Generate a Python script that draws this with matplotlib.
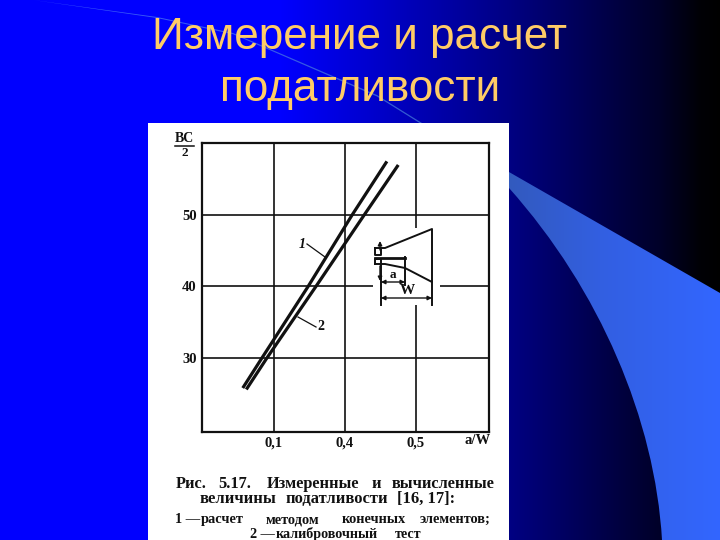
import numpy as np
import matplotlib
matplotlib.use('Agg')
import matplotlib.pyplot as plt
from matplotlib.patches import PathPatch, Rectangle
from matplotlib.path import Path

# curves
line1_x = [0.256, 0.283, 0.348, 0.410, 0.459]
line1_y = [25.8, 30, 40, 50, 57.5]
line2_x = [0.261, 0.290, 0.359, 0.427, 0.475]
line2_y = [25.6, 30, 40, 50, 57.0]

x_ticks = [0.3, 0.4, 0.5]
x_labels = ['0,1', '0,4', '0,5']
y_ticks = [30, 40, 50]
y_labels = ['30', '40', '50']

title_lines = ['Измерение и расчет', 'податливости']
caption_words = [
    [('Рис.', 176), ('5.17.', 218), ('Измеренные', 267), ('и', 372), ('вычисленные', 392)],
    [('величины', 200), ('податливости', 286), ('[16, 17]:', 397)],
    [('1 —', 175), ('расчет', 201), ('методом', 266), ('конечных', 342), ('элементов;', 420)],
    [('2 —', 250), ('калибровочный', 276), ('тест', 395)],
]
caption_y = [488, 503, 523, 538]
caption_size = [11.8, 11.9, 10.4, 10.2]

W, H = 720, 540
serif = 'Liberation Serif'
fig = plt.figure(figsize=(7.2, 5.4), dpi=100)

# background in pixel coordinates
bg = fig.add_axes([0, 0, 1, 1])
bg.set_xlim(0, W)
bg.set_ylim(H, 0)
bg.axis('off')

xs = np.arange(W)
blue = np.interp(xs, [0, 280, 510, 600, 660, 700, 720], [255, 255, 130, 75, 40, 5, 0])
grad = np.zeros((1, W, 3))
grad[0, :, 2] = blue / 255
bg.imshow(grad, extent=[0, W, H, 0], aspect='auto', zorder=0)

# swoosh
swoosh_r = np.interp(xs, [0, 509, 600, 720], [60, 50, 50, 51])
swoosh_g = np.interp(xs, [0, 509, 600, 720], [90, 90, 95, 102])
swoosh_b = np.interp(xs, [0, 240, 509, 600, 720], [255, 240, 190, 225, 255])
grad2 = np.dstack([swoosh_r, swoosh_g, swoosh_b])[None, 0] / 255
swoosh_verts = [(33, 0), (157, 17), (233, 33), (377, 95), (422, 123), (509, 172), (720, 293),
                (720, 540), (662, 540),
                (655, 420), (600, 290), (509, 188),
                (422, 124.5), (377, 96.5), (233, 34.2), (157, 18), (33, 0)]
swoosh_codes = [Path.MOVETO] + [Path.LINETO] * 8 + [Path.CURVE4] * 3 + [Path.LINETO] * 4 + [Path.CLOSEPOLY]
patch = PathPatch(Path(swoosh_verts, swoosh_codes), fc='none', ec='none', transform=bg.transData)
bg.add_patch(patch)
im = bg.imshow(grad2, extent=[0, W, H, 0], aspect='auto', zorder=1)
im.set_clip_path(patch)
bg.set_xlim(0, W)
bg.set_ylim(H, 0)

bg.add_patch(Rectangle((148, 123), 361, 417, fc='white', ec='none', zorder=2))

for line, yy in zip(title_lines, [48.5, 101]):
    bg.text(360, yy, line, ha='center', va='baseline', color='#FFCC66',
            fontsize=31.8, family='Liberation Sans', zorder=3)

for words, yy, size in zip(caption_words, caption_y, caption_size):
    for word, xx in words:
        bg.text(xx, yy, word, ha='left', va='baseline', color='#111111', fontsize=size,
                family=serif, weight='bold', zorder=3)

# chart
ax = fig.add_axes([202 / W, 1 - 432 / H, 287 / W, 289 / H])
ax.set_xlim(0.1986, 0.6028)
ax.set_ylim(19.65, 60.07)
ax.grid(True, color='#111111', lw=1.2)
ax.set_axisbelow(True)
ax.plot(line1_x, line1_y, color='#111111', lw=2.3, solid_capstyle='butt')
ax.plot(line2_x, line2_y, color='#111111', lw=2.3, solid_capstyle='butt')
ax.set_xticks(x_ticks, x_labels, family=serif, weight='bold', fontsize=10.5)
ax.set_yticks(y_ticks, y_labels, family=serif, weight='bold', fontsize=10.5)
ax.tick_params(axis='x', length=0, pad=3, colors='#111111')
ax.tick_params(axis='y', length=0, pad=4, colors='#111111')
for s in ax.spines.values():
    s.set_linewidth(1.6)
    s.set_color('#111111')

# overlay: specimen sketch and labels, pixel coordinates
top = fig.add_axes([0, 0, 1, 1])
top.set_xlim(0, W)
top.set_ylim(H, 0)
top.axis('off')
top.patch.set_alpha(0)
top.add_patch(Rectangle((373, 228), 67, 77, fc='white', ec='none'))
k = dict(color='#111111', lw=1.4)
top.plot([375, 385, 432, 432, 405, 385, 375], [248, 248, 229, 282, 268, 264, 264], **k)
top.plot([375, 375, 381, 381], [248, 255, 255, 248], **k)
top.plot([375, 375, 381, 381], [264, 259, 259, 264], **k)
top.plot([375, 405], [257.5, 257.5], color='#111111', lw=2)
top.plot([381, 381], [265, 305], **k)
top.plot([405, 405], [257, 285], **k)
top.plot([432, 432], [282, 305], **k)
arrow = dict(arrowstyle='<|-|>', color='#111111', lw=1, mutation_scale=6, shrinkA=0, shrinkB=0)
top.annotate('', xy=(381, 282), xytext=(405, 282), arrowprops=arrow)
top.annotate('', xy=(381, 298), xytext=(432, 298), arrowprops=arrow)
top.annotate('', xy=(380, 241), xytext=(380, 250), arrowprops=dict(arrow, arrowstyle='-|>'))
top.annotate('', xy=(380, 281), xytext=(380, 266), arrowprops=dict(arrow, arrowstyle='-|>'))
lab = dict(family=serif, weight='bold', color='#111111', ha='center', va='center')
top.text(393, 275, 'a', fontsize=9.5, **lab)
top.text(407, 290, 'W', fontsize=11, **lab)
top.text(302, 244, '1', fontsize=10, style='italic', **lab)
top.text(321, 327, '2', fontsize=10, **lab)
top.plot([307, 325], [244, 257], color='#111111', lw=0.9)
top.plot([316, 298], [327, 317], color='#111111', lw=0.9)
top.text(184.5, 139, 'BC', fontsize=10, **lab)
top.plot([175, 194], [146, 146], color='#111111', lw=1.1)
top.text(184.5, 153, '2', fontsize=9.5, **lab)
top.text(478, 441, 'a/W', fontsize=10.5, **lab)

fig.savefig('out.png', dpi=100)
